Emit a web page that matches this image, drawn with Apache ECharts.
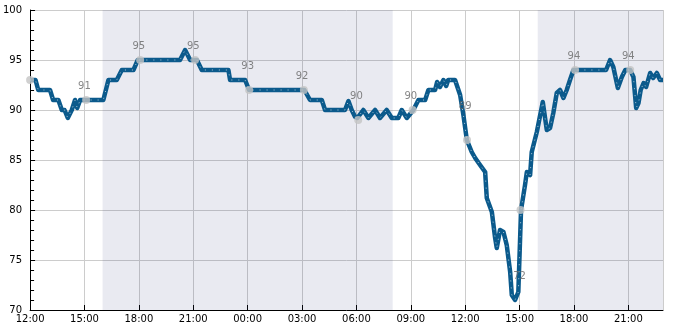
<!DOCTYPE html>
<html><head><meta charset="utf-8">
<script src="https://cdn.jsdelivr.net/npm/echarts@6/dist/echarts.min.js"></script>
<style>html,body{margin:0;padding:0;background:#fff}#c{width:685px;height:330px}</style>
</head><body><div id="c"></div>
<script>
// hours since 12:00 on day 1
const lineHours = [0,0.3,0.45,1.1,1.27,1.56,1.75,1.9,2.08,2.3,2.48,2.6,2.76,3.09,4.04,4.32,4.78,5.06,5.7,5.94,8.27,8.55,8.83,9.2,9.47,10.94,11.03,11.86,12.08,15.13,15.44,16.09,16.27,17.37,17.56,17.74,17.93,18.05,18.38,18.66,19.03,19.3,19.67,19.95,20.31,20.5,20.78,21.14,21.42,21.79,21.97,22.34,22.45,22.61,22.8,22.95,23.06,23.44,23.72,23.9,24.09,24.36,24.55,24.82,25.1,25.19,25.47,25.65,25.74,25.92,26.11,26.29,26.48,26.57,26.75,26.93,27.08,27.3,27.4,27.58,27.67,27.95,28.28,28.5,28.68,28.86,29.05,29.23,29.42,29.6,29.78,29.97,31.77,31.99,32.17,32.42,32.64,32.83,33.1,33.28,33.43,33.56,33.68,33.84,33.98,34.2,34.37,34.57,34.75,34.91];
const lineValues = [93,93,92,92,91,91,90,90,89.2,90,91,90.2,91,91,91,93,93,94,94,95,95,96,95,95,94,94,93,93,92,92,91,91,90,90,90.9,90,89.3,89.2,90,89.2,90,89.2,90,89.2,89.2,90,89.2,90,91,91,92,92,92.8,92.3,93,92.4,93,93,91.5,89.5,87,85.8,85.2,84.5,83.8,81.2,79.8,77.2,76.2,78,77.8,76.5,73.8,71.5,71,71.8,80,82.5,83.8,83.5,85.8,87.8,90.8,88,88.2,89.7,91.7,92,91.2,92,93,94,94,95,94.3,92.2,93.3,94,94,93.3,90.2,90.7,92,92.7,92.3,93.7,93.2,93.7,93,93];
const dotHours = [0,3.09,6.07,9.1,12.08,15.1,18.1,21.1,24.1,27.05,30.06,33.1];
const dotValues = [93,91,95,95,92,92,89,90,87,80,94,94];
const labelHours = [3,6,9,12,15,18,21,24,27,30,33];
const labelValues = [91,95,95,93,92,90,90,89,72,94,94];
const shadeRanges = [[4,20],[28,34.91]];
const xTickLabels = ['12:00','15:00','18:00','21:00','00:00','03:00','06:00','09:00','12:00','15:00','18:00','21:00'];

const lineData = lineHours.map((h,i)=>[h,lineValues[i]]);
const chart = echarts.init(document.getElementById('c'), null, {renderer:'canvas'});
chart.setOption({
  animation:false,
  textStyle:{fontFamily:'DejaVu Sans'},
  grid:{left:30,right:22,top:10,bottom:20},
  xAxis:{type:'value',min:0,max:34.91,interval:3,
    axisLine:{lineStyle:{color:'#000',width:1}},
    axisTick:{inside:true,length:5,lineStyle:{color:'#000'}},
    axisLabel:{color:'#000',fontSize:10,margin:4,showMaxLabel:false,
      formatter:v=>xTickLabels[Math.round(v/3)]||''},
    splitLine:{show:true,lineStyle:{color:'#cccccc',width:1}}},
  yAxis:{type:'value',min:70,max:100,interval:5,
    axisLine:{show:true,lineStyle:{color:'#000',width:1}},
    axisTick:{inside:true,length:5,lineStyle:{color:'#000'}},
    minorTick:{show:true,splitNumber:5,length:4,lineStyle:{color:'#000'}},
    axisLabel:{color:'#000',fontSize:10,margin:8},
    splitLine:{show:true,lineStyle:{color:'#cccccc',width:1}}},
  series:[
    {type:'line',data:lineData,symbol:'none',silent:true,z:2,
     lineStyle:{color:'#0b5a8c',width:4.5,join:'round'},
     markArea:{silent:true,itemStyle:{color:'rgba(40,50,120,0.1)'},
       data:shadeRanges.map(r=>[{xAxis:r[0]},{xAxis:r[1]}])}},
    {type:'line',data:lineData,symbol:'none',silent:true,z:3,
     lineStyle:{color:'#ffffff',width:1,type:[1,6],opacity:0.65}},
    {type:'scatter',data:dotHours.map((h,i)=>[h,dotValues[i]]),symbolSize:8,z:4,
     itemStyle:{color:'#c4c4c4'}},
    {type:'scatter',data:labelHours.map((h,i)=>[h,labelValues[i]]),symbolSize:0,z:5,
     label:{show:true,position:'top',distance:9,color:'#666666',fontSize:10,fontFamily:'DejaVu Sans',
       formatter:p=>String(p.value[1])}}
  ]
});
</script></body></html>
